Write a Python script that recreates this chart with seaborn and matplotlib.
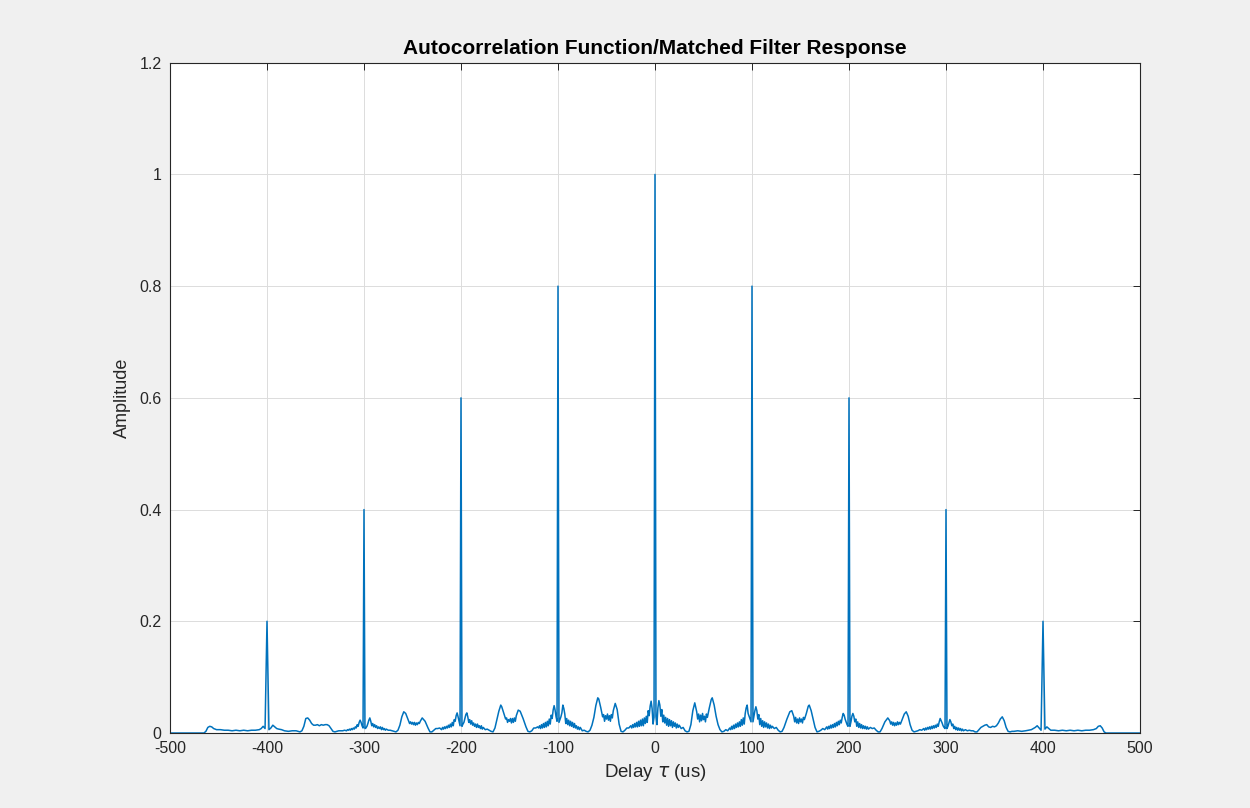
import numpy as np
import pandas as pd
import matplotlib
matplotlib.use("Agg")
import matplotlib.pyplot as plt
import seaborn as sns

# ---- data ----
peak_pos = [-400, -300, -200, -100, 0, 100, 200, 300, 400]
peak_amp = [0.2, 0.4, 0.6, 0.8, 1.0, 0.8, 0.6, 0.4, 0.2]

# sidelobe trace, right half (delay in us, amplitude)
right_x = [1, 2, 3, 4, 5, 6, 7, 8, 9, 10,
           11, 12, 13, 14, 15, 16, 17, 18, 19, 20,
           21, 22, 23, 24, 25, 27, 29, 31, 33, 35,
           37, 39, 41, 43, 44, 45, 46, 47, 48, 49,
           50, 51, 52, 53, 54, 56, 58, 59, 61, 63,
           65, 67, 69, 71, 73, 75, 77, 78, 79, 80,
           81, 82, 83, 84, 85, 86, 87, 88, 89, 90,
           91, 92, 93, 94, 95, 96, 97, 98, 99,
           101, 102, 103, 104, 105, 106, 107, 108, 109, 110,
           111, 112, 113, 114, 115, 116, 117, 118, 119, 120,
           121, 123, 125, 127, 129, 131, 133, 136, 139, 141,
           143, 144, 145, 146, 147, 148, 149, 150, 151, 152,
           153, 154, 156, 158, 159, 161, 163, 165, 167, 169,
           171, 173, 175, 177, 178, 179, 180, 181, 182, 183,
           184, 185, 186, 187, 188, 189, 190, 191, 192, 193,
           194, 195, 196, 197, 198, 199,
           201, 202, 203, 204, 205, 206, 207, 208, 209, 210,
           211, 212, 213, 214, 215, 216, 217, 218, 219, 220,
           222, 224, 226, 228, 230, 232, 234, 237, 240, 242,
           243, 244, 245, 246, 247, 248, 249, 250, 251, 252,
           253, 255, 257, 259, 261, 263, 265, 267, 269, 271,
           273, 275, 277, 278, 279, 280, 281, 282, 283, 284,
           285, 286, 287, 288, 289, 290, 291, 292, 293, 294,
           295, 296, 297, 298, 299,
           301, 302, 303, 304, 305, 306, 307, 308, 309, 310,
           311, 312, 313, 314, 315, 316, 317, 318, 320, 322,
           324, 326, 328, 330, 332, 334, 336, 338, 340, 342,
           344, 346, 348, 350, 352, 354, 356, 358, 360, 362,
           364, 366, 368, 370, 374, 378, 382, 385, 388, 390,
           392, 394, 396, 398,
           402, 404, 406, 408, 412, 416, 420, 424, 428, 432,
           436, 440, 444, 448, 452, 455, 457, 459, 461, 463,
           465, 500]
right_y = [.030, .015, .045, .058, .050, .030, .042, .020, .032, .018,
           .028, .014, .026, .012, .024, .013, .022, .010, .020, .012,
           .018, .009, .016, .010, .014, .008, .010, .004, .002, .003,
           .015, .040, .054, .038, .025, .034, .020, .032, .022, .035,
           .024, .030, .020, .034, .028, .045, .060, .063, .050, .030,
           .015, .006, .002, .003, .006, .004, .009, .006, .012, .007,
           .014, .008, .016, .010, .018, .011, .020, .012, .024, .014,
           .027, .016, .035, .045, .050, .035, .030, .025, .020,
           .020, .030, .040, .047, .040, .025, .033, .015, .026, .012,
           .022, .010, .020, .011, .018, .009, .016, .008, .014, .009,
           .012, .008, .010, .005, .002, .003, .010, .025, .038, .040,
           .030, .020, .028, .018, .025, .017, .027, .020, .025, .018,
           .028, .024, .035, .048, .050, .040, .025, .010, .002, .003,
           .005, .008, .006, .011, .007, .012, .008, .014, .009, .015,
           .010, .017, .011, .019, .013, .021, .015, .023, .018, .028,
           .035, .032, .025, .020, .015, .012,
           .012, .020, .030, .035, .030, .020, .025, .012, .020, .010,
           .017, .009, .015, .008, .013, .008, .012, .007, .011, .007,
           .010, .008, .009, .005, .002, .002, .008, .020, .027, .022,
           .016, .020, .014, .019, .013, .018, .014, .020, .015, .019,
           .016, .025, .034, .038, .030, .015, .005, .002, .003, .004,
           .006, .005, .008, .005, .009, .006, .010, .007, .011, .007,
           .012, .008, .013, .009, .014, .010, .016, .012, .020, .026,
           .022, .018, .013, .010, .008,
           .008, .012, .018, .024, .020, .013, .016, .008, .012, .006,
           .010, .005, .009, .005, .008, .004, .007, .004, .006, .004,
           .005, .004, .004, .002, .002, .006, .010, .012, .014, .015,
           .011, .010, .012, .011, .013, .018, .025, .029, .022, .010,
           .003, .002, .003, .003, .004, .003, .004, .005, .006, .008,
           .010, .013, .009, .005,
           .007, .011, .008, .005, .005, .004, .005, .004, .005, .004,
           .005, .004, .005, .005, .006, .008, .012, .013, .009, .002,
           0.0, 0.0]

# sidelobe trace, left half
left_x = [-1, -2, -3, -4, -5, -6, -7, -8, -9, -10,
          -11, -12, -13, -14, -15, -16, -17, -18, -19, -20,
          -21, -22, -23, -24, -25, -27, -29, -31, -33, -35,
          -37, -39, -41, -43, -44, -45, -46, -47, -48, -49,
          -50, -51, -52, -53, -54, -56, -58, -59, -61, -63,
          -65, -67, -69, -71, -73, -75, -77, -78, -79, -80,
          -81, -82, -83, -84, -85, -86, -87, -88, -89, -90,
          -91, -92, -93, -94, -95, -96, -97, -98, -99,
          -101, -102, -103, -104, -105, -106, -107, -108, -109, -110,
          -111, -112, -113, -114, -115, -116, -117, -118, -119, -120,
          -121, -123, -125, -127, -129, -131, -133, -136, -139, -141,
          -143, -144, -145, -146, -147, -148, -149, -150, -151, -152,
          -153, -154, -156, -158, -159, -161, -163, -165, -167, -169,
          -171, -173, -175, -177, -178, -179, -180, -181, -182, -183,
          -184, -185, -186, -187, -188, -189, -190, -191, -192, -193,
          -194, -195, -196, -197, -198, -199,
          -201, -202, -203, -204, -205, -206, -207, -208, -209, -210,
          -211, -212, -213, -214, -215, -216, -217, -218, -219, -220,
          -222, -224, -226, -228, -230, -232, -234, -237, -240, -242,
          -243, -244, -245, -246, -247, -248, -249, -250, -251, -252,
          -253, -255, -257, -259, -261, -263, -265, -267, -269, -271,
          -273, -275, -277, -278, -279, -280, -281, -282, -283, -284,
          -285, -286, -287, -288, -289, -290, -291, -292, -293, -294,
          -295, -296, -297, -298, -299,
          -301, -302, -303, -304, -305, -306, -307, -308, -309, -310,
          -311, -312, -313, -314, -315, -316, -317, -318, -320, -322,
          -324, -326, -328, -330, -332, -334, -336, -338, -340, -342,
          -344, -346, -348, -350, -352, -354, -356, -358, -360, -362,
          -364, -366, -368, -370, -374, -378, -382, -385, -388, -390,
          -392, -394, -396, -398,
          -402, -404, -406, -408, -412, -416, -420, -424, -428, -432,
          -436, -440, -444, -448, -452, -455, -457, -459, -461, -463,
          -465, -500]
left_y = [.028, .016, .044, .057, .048, .031, .040, .019, .030, .017,
          .027, .013, .025, .013, .023, .012, .021, .011, .019, .011,
          .017, .010, .015, .009, .013, .009, .009, .005, .002, .003,
          .016, .042, .053, .040, .027, .033, .021, .031, .023, .034,
          .025, .031, .021, .033, .029, .046, .061, .063, .049, .028,
          .014, .005, .002, .003, .005, .004, .010, .006, .011, .007,
          .013, .009, .017, .010, .019, .012, .021, .013, .023, .015,
          .026, .017, .034, .044, .050, .036, .029, .024, .019,
          .021, .029, .041, .049, .041, .026, .032, .016, .025, .013,
          .021, .011, .019, .010, .017, .009, .015, .008, .013, .009,
          .011, .009, .009, .004, .002, .003, .011, .026, .039, .041,
          .031, .021, .027, .019, .026, .018, .026, .021, .024, .019,
          .027, .025, .036, .047, .050, .039, .024, .009, .002, .003,
          .005, .007, .006, .010, .007, .013, .008, .013, .010, .016,
          .010, .016, .012, .018, .014, .022, .016, .024, .019, .029,
          .036, .033, .026, .019, .016, .012,
          .013, .021, .029, .036, .031, .021, .024, .013, .019, .011,
          .016, .010, .014, .009, .012, .008, .011, .007, .010, .006,
          .009, .008, .008, .005, .002, .002, .009, .021, .027, .021,
          .017, .019, .015, .018, .014, .019, .015, .019, .016, .020,
          .017, .026, .035, .038, .029, .014, .005, .002, .003, .004,
          .005, .005, .007, .005, .008, .006, .010, .006, .011, .008,
          .011, .008, .013, .010, .015, .011, .017, .013, .021, .027,
          .023, .017, .012, .009, .008,
          .009, .013, .019, .023, .019, .012, .015, .009, .011, .007,
          .009, .006, .008, .005, .007, .005, .006, .004, .005, .004,
          .004, .004, .003, .002, .003, .008, .013, .015, .015, .014,
          .015, .013, .015, .014, .014, .017, .023, .027, .026, .012,
          .004, .002, .003, .004, .004, .003, .004, .006, .007, .008,
          .011, .014, .009, .006,
          .008, .012, .008, .006, .005, .005, .004, .005, .004, .005,
          .004, .005, .005, .006, .006, .008, .011, .012, .010, .003,
          0.0, 0.0]

assert len(right_x) == len(right_y)
assert len(left_x) == len(left_y)

df = pd.DataFrame({
    "delay": list(left_x) + list(right_x) + list(peak_pos),
    "amp": list(left_y) + list(right_y) + list(peak_amp),
}).sort_values("delay").reset_index(drop=True)

# ---- styling ----
sns.set_theme(style="whitegrid")
plt.rcParams["font.family"] = ["Liberation Sans", "DejaVu Sans"]
plt.rcParams["mathtext.fontset"] = "dejavusans"

fig = plt.figure(figsize=(12.5, 8.08), dpi=100, facecolor="#f0f0f0")
ax = fig.add_axes([0.136, 0.0928, 0.776, 0.8296])
ax.set_facecolor("white")

sns.lineplot(data=df, x="delay", y="amp", ax=ax, color="#0072BD",
             linewidth=1.1, estimator=None, sort=False)

ax.set_xlim(-500, 500)
ax.set_ylim(0, 1.2)
ax.set_xticks(np.arange(-500, 501, 100))
ax.set_yticks([0, 0.2, 0.4, 0.6, 0.8, 1.0, 1.2])
ax.xaxis.set_major_formatter(matplotlib.ticker.FormatStrFormatter("%g"))
ax.yaxis.set_major_formatter(matplotlib.ticker.FormatStrFormatter("%g"))

ax.grid(True, color="#dcdcdc", linewidth=0.7)
for s in ax.spines.values():
    s.set_visible(True)
    s.set_color("#262626")
    s.set_linewidth(0.8)
ax.tick_params(direction="in", top=True, right=True, length=5, width=0.7,
               colors="#262626", labelsize=11.5, pad=6)

ax.set_title("Autocorrelation Function/Matched Filter Response",
             fontsize=15, fontweight="bold", color="black", pad=6)
ax.set_xlabel(r"Delay $\tau$ (us)", fontsize=13.5, color="#262626", labelpad=4)
ax.set_ylabel("Amplitude", fontsize=13, color="#262626", labelpad=6)

fig.savefig("out.png", dpi=100, facecolor=fig.get_facecolor())
